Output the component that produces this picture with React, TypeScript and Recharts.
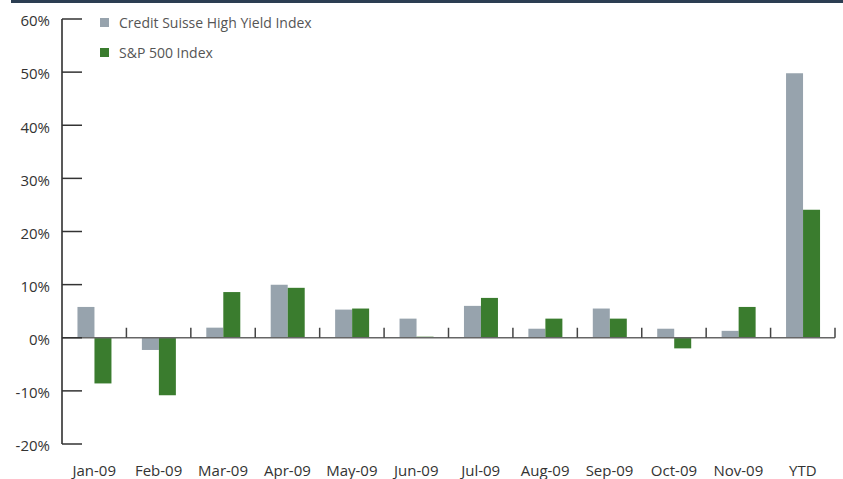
import { BarChart, Bar, XAxis, YAxis, ReferenceLine, Legend } from "recharts";

const months = ["Jan-09", "Feb-09", "Mar-09", "Apr-09", "May-09", "Jun-09", "Jul-09", "Aug-09", "Sep-09", "Oct-09", "Nov-09", "YTD"];
const creditSuisse = [5.8, -2.3, 1.9, 10.0, 5.3, 3.6, 6.0, 1.7, 5.5, 1.7, 1.3, 49.8];
const sp500 = [-8.6, -10.8, 8.6, 9.4, 5.5, 0.2, 7.5, 3.6, 3.6, -2.0, 5.8, 24.1];
const yTicks = [-20, -10, 0, 10, 20, 30, 40, 50, 60];

const data = months.map((m, i) => ({ month: m, cs: creditSuisse[i], sp: sp500[i] }));

const FONT = "'Open Sans', 'Noto Sans', sans-serif";
const GRAY = "#97a3ad";
const GREEN = "#3a7c2e";

const YTick = (props: any) => {
  const { x, y, payload } = props;
  return (
    <g>
      <line x1={x + 12} x2={x + 32} y1={y} y2={y} stroke="#333" strokeWidth={1.5} />
      <text x={x} y={y + 2} dy="0.355em" textAnchor="end" fill="#333" fontSize={15} fontFamily={FONT}>
        {payload.value}%
      </text>
    </g>
  );
};

const XTick = (props: any) => {
  const { x, y, payload } = props;
  return (
    <text x={x} y={y + 27} dy="0.355em" textAnchor="middle" fill="#333" fontSize={15} fontFamily={FONT}>
      {payload.value}
    </text>
  );
};

// zero line with small upward ticks at the category boundaries
const ZeroLine = (props: any) => {
  const { x1, x2, y1 } = props;
  const step = (x2 - x1) / months.length;
  return (
    <g>
      <line x1={x1} x2={x2} y1={y1} y2={y1} stroke="#666" strokeWidth={1.5} />
      {months.map((_, i) => (
        <line key={i} x1={x1 + step * (i + 1)} x2={x1 + step * (i + 1)} y1={y1} y2={y1 - 10} stroke="#444" strokeWidth={1.5} />
      ))}
    </g>
  );
};

const LegendBox = (props: any) => {
  const { payload } = props;
  return (
    <div style={{ fontFamily: FONT, fontSize: 14, color: "#555" }}>
      {payload.map((p: any) => (
        <div key={p.value} style={{ display: "flex", alignItems: "center", height: 30 }}>
          <span style={{ width: 9, height: 9, background: p.color, marginRight: 10, display: "inline-block" }} />
          {p.value}
        </div>
      ))}
    </div>
  );
};

export default function App() {
  return (
    <div style={{ position: "absolute", left: 0, top: 0, width: 843, height: 479, background: "#fff" }}>
      <div style={{ position: "absolute", left: 11, top: 0, width: 832, height: 3, background: "#2c3e52" }} />
      <BarChart
        width={843}
        height={479}
        data={data}
        margin={{ top: 19, right: 8, left: 0, bottom: 0 }}
        barCategoryGap="24%"
        barGap={0}
      >
        <XAxis
          dataKey="month"
          axisLine={false}
          tickLine={false}
          tickSize={0}
          tickMargin={0}
          height={35}
          interval={0}
          tick={<XTick />}
        />
        <YAxis
          domain={[-20, 60]}
          ticks={yTicks}
          width={62}
          tickLine={false}
          tickSize={0}
          tickMargin={12}
          axisLine={{ stroke: "#222", strokeWidth: 1.5 }}
          tick={<YTick />}
        />
        <Legend
          layout="vertical"
          verticalAlign="middle"
          align="center"
          wrapperStyle={{ top: 7, left: 100, width: 300 }}
          content={<LegendBox />}
        />
        <ReferenceLine y={0} shape={<ZeroLine />} />
        <Bar dataKey="cs" name="Credit Suisse High Yield Index" fill={GRAY} isAnimationActive={false} />
        <Bar dataKey="sp" name="S&P 500 Index" fill={GREEN} isAnimationActive={false} />
      </BarChart>
    </div>
  );
}
